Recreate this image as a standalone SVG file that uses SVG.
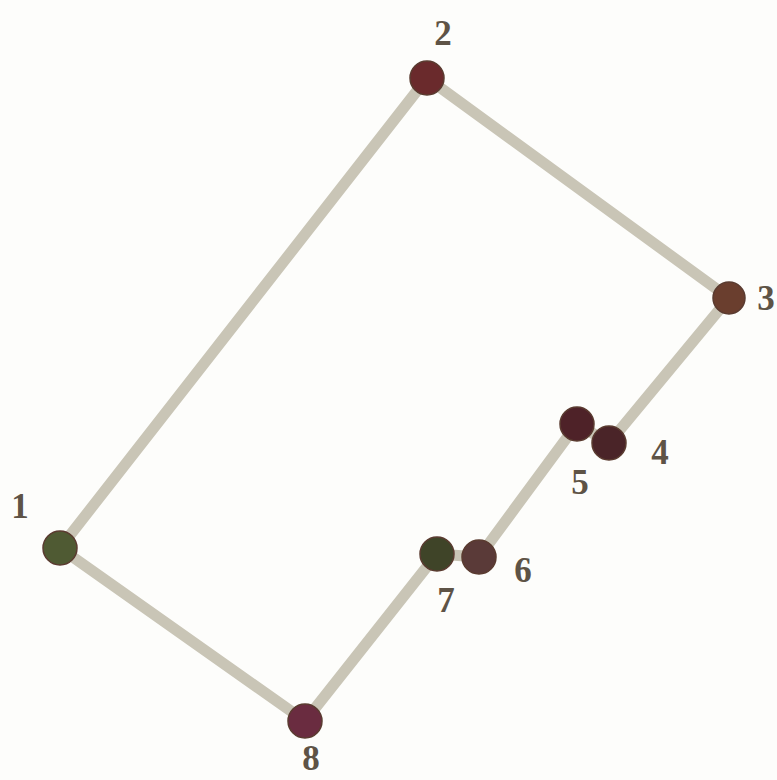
<svg xmlns="http://www.w3.org/2000/svg" width="777" height="780" viewBox="0 0 777 780">
<style>
.e{stroke:#c9c5b6;stroke-width:11;stroke-linecap:round;fill:none}
.n{stroke:#5a3b30;stroke-width:1.5}
.t{font-family:"Liberation Serif",serif;font-weight:bold;font-size:35px;fill:#5e5346;text-anchor:middle}
</style>
<rect width="777" height="780" fill="#fdfdfb"/>
<g id="connectors">
<line class="e" x1="60" y1="548" x2="427" y2="78"/>
<line class="e" x1="427" y1="78" x2="729" y2="298"/>
<line class="e" x1="729" y1="298" x2="609" y2="443"/>
<line class="e" x1="609" y1="443" x2="577" y2="424"/>
<line class="e" x1="577" y1="424" x2="479" y2="557"/>
<line class="e" x1="479" y1="557" x2="437" y2="554"/>
<line class="e" x1="437" y1="554" x2="305" y2="721"/>
<line class="e" x1="305" y1="721" x2="60" y2="548"/>
</g>
<g id="n1"><circle class="n" cx="60" cy="548" r="17" fill="#4f5a33"/><text class="t" x="20" y="518">1</text></g>
<g id="n2"><circle class="n" cx="427" cy="78" r="17" fill="#6a2a2c"/><text class="t" x="443" y="45">2</text></g>
<g id="n3"><circle class="n" cx="729" cy="298" r="16" fill="#6a3e2e"/><text class="t" x="766" y="310">3</text></g>
<g id="n4"><circle class="n" cx="609" cy="443" r="17" fill="#4a2428"/><text class="t" x="660" y="464">4</text></g>
<g id="n5"><circle class="n" cx="577" cy="424" r="17" fill="#4e2228"/><text class="t" x="580" y="494">5</text></g>
<g id="n6"><circle class="n" cx="479" cy="557" r="17" fill="#5a3a38"/><text class="t" x="523" y="582">6</text></g>
<g id="n7"><circle class="n" cx="437" cy="554" r="17" fill="#3f4428"/><text class="t" x="446" y="612">7</text></g>
<g id="n8"><circle class="n" cx="305" cy="721" r="17" fill="#6a2c40"/><text class="t" x="311" y="770">8</text></g>
</svg>
